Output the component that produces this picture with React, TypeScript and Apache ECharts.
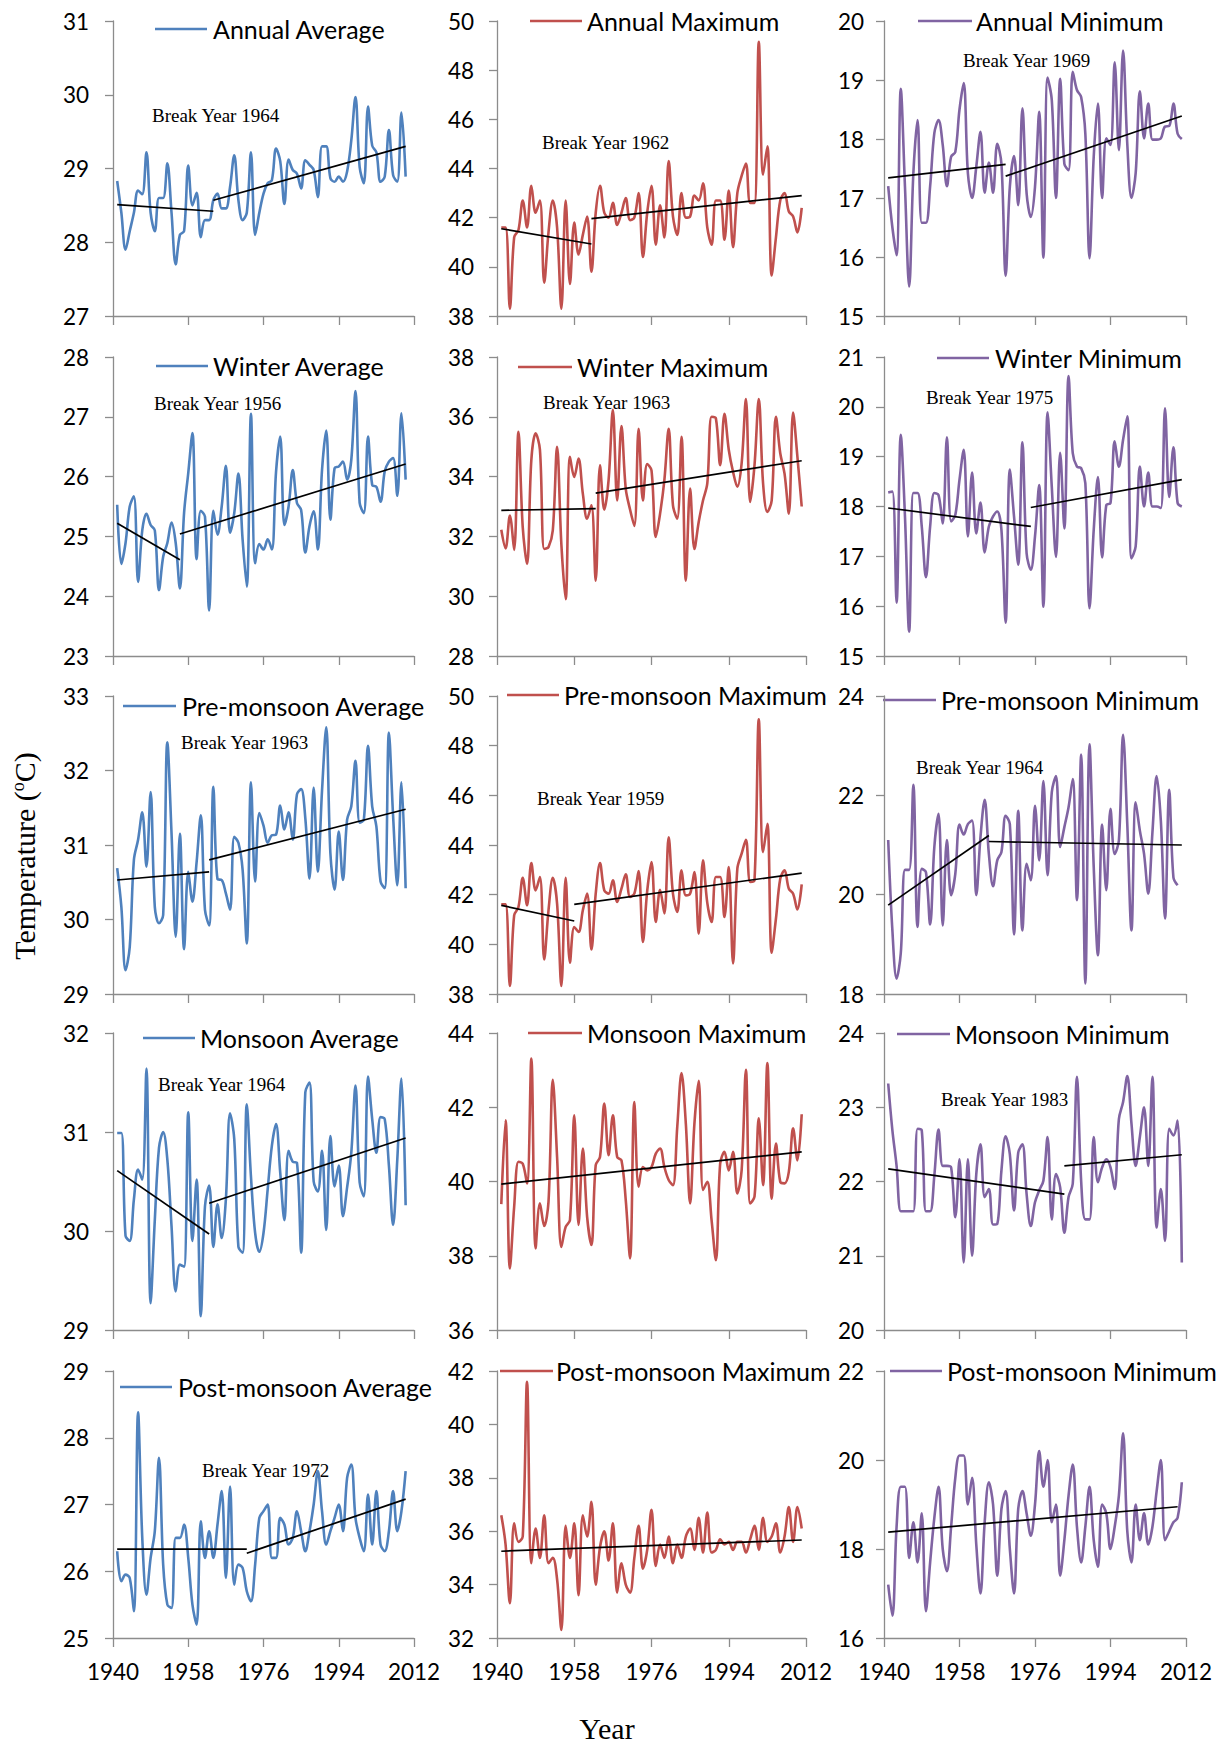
import React, { useEffect, useRef } from "react";
import * as echarts from "echarts";

// ---------------- DATA ----------------
const START_YEAR = 1941;
const X_MIN = 1940;
const X_MAX = 2012;
const X_STEP = 18;

const annualAverage = [28.83, 28.4, 27.9, 28.15, 28.4, 28.7, 28.65, 29.22, 28.4, 28.15,
  28.6, 28.6, 29.07, 28.4, 27.7, 28.1, 28.15, 29.04, 28.5, 28.67,
  28.07, 28.3, 28.3, 28.57, 28.66, 28.46, 28.46, 28.75, 29.18, 28.57,
  28.3, 28.4, 29.22, 28.1, 28.4, 28.66, 28.8, 28.84, 29.27, 29.1,
  28.52, 29.12, 28.98, 28.93, 28.73, 29.11, 29.05, 28.98, 28.61, 29.3,
  29.3, 28.87, 28.82, 28.89, 28.82, 28.96, 29.38, 29.97, 29.02, 28.8,
  29.84, 29.31, 29.22, 28.82, 28.89, 29.52, 28.91, 28.82, 29.76, 28.89];

const annualMaximum = [41.6, 41.6, 38.3, 41.2, 41.5, 42.7, 41.6, 43.3, 42.2, 42.7,
  39.35, 41.4, 42.7, 41.6, 38.3, 42.7, 39.3, 41.8, 40.5, 41.3,
  42.05, 39.8, 42.2, 43.3, 42.2, 42.0, 42.6, 41.7, 42.2, 42.8,
  41.9, 42.0, 43.0, 40.4, 42.2, 43.3, 40.9, 42.5, 41.2, 44.3,
  42.05, 41.3, 43.0, 42.0, 42.05, 42.9, 42.7, 43.4, 41.6, 40.9,
  42.7, 42.7, 41.1, 43.1, 40.8, 43.0, 43.7, 44.2, 42.6, 42.6,
  49.15, 43.75, 44.9, 39.65, 41.2, 42.7, 43.0, 42.25, 42.05, 41.4,
  42.4];

const annualMinimum = [17.2, 16.5, 16.03, 18.85, 17.19, 15.5, 17.42, 18.32, 16.58, 16.58,
  17.2, 18.1, 18.32, 17.9, 17.2, 17.7, 17.78, 18.5, 18.95, 17.42,
  17.0, 17.53, 18.12, 17.09, 17.6, 17.09, 17.92, 17.58, 15.68, 17.19,
  17.71, 16.88, 18.52, 17.08, 16.68, 17.19, 18.46, 15.99, 19.04, 18.66,
  17.0, 19.02, 17.58, 17.47, 19.14, 18.83, 18.71, 18.09, 15.98, 17.7,
  18.6, 17.0, 18.01, 17.9, 19.3, 17.81, 19.5, 17.92, 17.0, 17.42,
  18.81, 18.01, 18.6, 17.99, 17.99, 18.01, 18.21, 18.22, 18.6, 18.09,
  18.0];

const winterAverage = [25.53, 24.54, 24.89, 25.5, 25.67, 24.24, 25.1, 25.38, 25.19, 25.1,
  24.1, 24.66, 24.89, 25.23, 24.89, 24.13, 25.39, 26.06, 26.73, 24.62,
  25.43, 25.33, 23.76, 25.43, 25.03, 25.5, 26.18, 25.06, 25.39, 26.05,
  24.95, 24.16, 27.05, 24.55, 24.87, 24.78, 24.95, 24.78, 26.08, 26.67,
  25.19, 25.5, 26.11, 25.56, 25.44, 24.73, 25.17, 25.42, 24.78, 26.11,
  26.77, 25.28, 26.14, 26.17, 26.25, 25.95, 26.28, 27.43, 25.56, 25.39,
  26.67, 25.86, 25.83, 25.58, 26.09, 26.25, 26.31, 25.68, 27.06, 25.95];

const winterMaximum = [32.22, 31.6, 32.7, 31.55, 35.5, 32.3, 31.08, 34.55, 35.45, 34.9,
  31.58, 31.64, 32.2, 35.0, 31.73, 29.9, 34.66, 33.99, 34.6, 33.43,
  32.59, 33.04, 30.52, 34.38, 32.89, 33.88, 36.23, 33.2, 35.69, 33.6,
  32.9, 32.35, 35.6, 33.2, 34.42, 34.21, 31.98, 32.76, 33.88, 35.6,
  33.04, 32.59, 35.33, 30.52, 33.6, 31.58, 32.48, 33.2, 33.77, 36.0,
  35.95, 34.38, 36.1, 34.9, 34.16, 33.66, 34.44, 36.59, 33.15, 34.38,
  36.59, 33.77, 32.82, 33.2, 36.0, 34.78, 34.1, 32.76, 36.14, 34.66,
  33.0];

const winterMinimum = [18.28, 18.3, 16.07, 19.44, 17.8, 15.49, 18.27, 18.27, 17.6, 16.58,
  17.6, 18.27, 18.23, 17.66, 19.39, 17.7, 17.83, 18.54, 19.14, 17.4,
  18.68, 17.46, 18.08, 17.08, 17.6, 17.8, 17.9, 17.53, 15.67, 18.74,
  17.8, 16.83, 19.29, 17.06, 16.73, 17.4, 18.43, 15.99, 19.89, 18.4,
  16.99, 19.08, 17.56, 20.62, 19.07, 18.8, 18.77, 18.47, 15.96, 17.53,
  18.59, 16.98, 18.03, 18.07, 19.31, 18.8, 19.34, 19.81, 16.96, 17.2,
  18.8, 18.0, 18.68, 18.0, 18.0, 17.97, 19.97, 18.19, 19.19, 18.07,
  18.0];

const preMonsoonAverage = [30.69, 30.17, 29.32, 29.63, 30.8, 31.07, 31.44, 30.71, 31.71, 30.17,
  29.95, 30.06, 32.38, 31.16, 29.77, 31.15, 29.6, 30.64, 30.24, 30.77,
  31.4, 30.13, 29.92, 31.78, 30.54, 30.53, 30.35, 30.13, 31.11, 31.03,
  30.67, 29.68, 31.84, 30.51, 31.43, 31.26, 31.03, 31.13, 31.14, 31.53,
  31.21, 31.44, 31.07, 31.68, 31.75, 31.36, 30.55, 31.77, 30.64, 31.73,
  32.58, 30.89, 30.4, 31.18, 30.53, 31.34, 31.52, 32.13, 31.3, 31.34,
  32.33, 31.52, 31.25, 30.51, 30.42, 32.51, 31.39, 30.46, 31.84, 30.42];

const preMonsoonMaximum = [41.61, 41.61, 38.32, 41.17, 41.5, 42.68, 41.57, 43.27, 42.17, 42.71,
  39.39, 41.37, 42.68, 41.64, 38.32, 42.68, 39.26, 40.7, 40.5, 41.37,
  42.04, 39.79, 42.04, 43.27, 42.17, 42.04, 42.58, 41.71, 42.24, 42.82,
  41.91, 42.04, 42.95, 40.1, 42.15, 43.31, 40.9, 42.2, 41.24, 44.31,
  42.04, 41.3, 42.98, 41.97, 42.04, 42.91, 40.43, 43.38, 41.67, 40.9,
  42.71, 42.71, 41.1, 43.11, 39.23, 43.04, 43.65, 44.21, 42.51, 42.58,
  49.06, 43.71, 44.85, 39.66, 41.04, 42.64, 42.98, 42.24, 42.04, 41.4,
  42.41];

const preMonsoonMinimum = [21.1, 19.28, 18.31, 18.82, 20.5, 20.5, 22.21, 19.35, 20.52, 20.45,
  19.4, 20.96, 21.63, 19.38, 21.1, 19.99, 20.42, 21.41, 21.21, 21.42,
  21.49, 19.99, 21.16, 21.91, 20.82, 20.17, 20.69, 20.86, 21.59, 21.42,
  19.2, 21.69, 19.28, 20.62, 20.29, 21.79, 20.69, 22.29, 20.39, 22.06,
  22.39, 20.96, 21.36, 21.76, 22.33, 19.89, 22.82, 18.21, 23.03, 20.56,
  18.78, 21.41, 20.09, 21.73, 20.82, 21.09, 23.22, 21.42, 19.28, 21.86,
  21.29, 20.82, 20.02, 21.26, 22.39, 21.49, 19.52, 22.11, 20.35, 20.19];

const monsoonAverage = [30.99, 30.99, 29.95, 29.9, 30.32, 30.62, 30.52, 31.64, 29.27, 30.11,
  30.84, 31.0, 30.72, 30.05, 29.39, 29.66, 29.64, 31.2, 29.9, 30.52,
  29.14, 30.25, 30.46, 29.84, 30.27, 29.93, 30.32, 31.19, 30.93, 29.84,
  29.78, 31.28, 30.55, 29.98, 29.79, 29.98, 30.42, 30.86, 31.08, 30.59,
  30.11, 30.81, 30.7, 30.69, 29.78, 31.4, 31.5, 30.5, 30.4, 30.81,
  30.01, 30.96, 30.45, 30.66, 30.15, 30.44, 30.79, 31.47, 30.49, 30.35,
  31.56, 31.13, 30.79, 31.15, 31.13, 30.66, 30.06, 30.72, 31.54, 30.26];

const monsoonMaximum = [39.39, 41.65, 37.66, 39.32, 40.53, 40.48, 39.95, 43.31, 38.2, 39.41,
  38.8, 39.45, 42.74, 40.66, 38.24, 38.78, 38.96, 41.78, 38.83, 40.89,
  39.05, 38.29, 40.44, 40.66, 42.1, 40.71, 41.78, 40.66, 40.57, 39.5,
  37.93, 42.14, 39.86, 40.39, 40.3, 40.39, 40.75, 40.89, 40.39, 40.04,
  39.9, 41.47, 42.92, 41.56, 39.41, 41.56, 42.71, 39.77, 39.99, 38.96,
  37.88, 40.48, 40.8, 40.3, 40.8, 39.68, 40.3, 43.01, 39.41, 39.59,
  41.7, 39.9, 43.19, 39.54, 41.02, 39.99, 39.95, 40.26, 41.43, 40.57,
  41.81];

const monsoonMinimum = [23.32, 22.69, 22.21, 21.6, 21.6, 21.6, 21.6, 22.71, 22.69, 21.6,
  21.6, 22.08, 22.7, 22.21, 22.21, 22.19, 21.52, 22.3, 20.91, 22.3,
  21.0, 22.1, 22.5, 21.79, 21.9, 21.42, 21.43, 22.15, 22.61, 22.37,
  21.61, 22.39, 22.5, 21.83, 21.4, 21.72, 21.88, 22.01, 22.6, 21.49,
  22.1, 21.92, 21.31, 21.79, 21.97, 23.41, 22.01, 21.49, 21.49, 22.6,
  21.99, 22.19, 22.3, 22.19, 21.9, 22.84, 23.07, 23.42, 22.78, 22.21,
  22.6, 23.0, 22.21, 23.41, 21.38, 21.9, 21.2, 22.71, 22.62, 22.82,
  20.91];

const postMonsoonAverage = [26.3, 25.85, 25.95, 25.9, 25.4, 28.38, 26.5, 25.65, 26.2, 26.6,
  27.7, 26.1, 25.5, 25.45, 26.5, 26.5, 26.7, 26.2, 25.5, 25.2,
  26.75, 26.2, 26.6, 26.2, 26.7, 27.2, 25.9, 27.27, 25.8, 26.1,
  26.05, 25.7, 25.55, 26.1, 26.8, 26.9, 27.0, 26.2, 26.2, 26.8,
  26.7, 26.4, 26.5, 26.9, 26.6, 26.3, 26.6, 27.0, 27.5, 26.9,
  26.4, 26.6, 26.8, 27.0, 26.6, 27.4, 27.6, 26.8, 26.5, 26.3,
  27.15, 26.4, 27.2, 26.4, 26.3, 26.6, 27.2, 26.6, 26.9, 27.5];

const postMonsoonMaximum = [36.6, 35.5, 33.3, 36.3, 35.6, 35.8, 41.6, 34.8, 36.1, 35.0,
  36.6, 34.8, 35.0, 34.2, 32.3, 36.2, 35.0, 36.3, 33.6, 36.6,
  35.8, 37.1, 34.0, 35.4, 36.0, 34.9, 36.3, 33.7, 34.8, 34.0,
  33.7, 35.0, 36.2, 34.6, 35.3, 36.8, 34.7, 35.5, 35.0, 35.8,
  34.8, 35.5, 35.0, 35.8, 36.1, 35.3, 36.5, 35.2, 36.7, 35.2,
  35.3, 35.7, 35.5, 35.6, 35.3, 35.6, 35.6, 35.2, 35.7, 36.2,
  35.3, 36.5, 35.6, 35.8, 36.3, 35.2, 35.8, 36.9, 35.6, 36.9,
  36.1];

const postMonsoonMinimum = [17.2, 16.5, 18.5, 19.4, 19.4, 17.8, 18.6, 17.7, 18.8, 16.6,
  17.7, 18.7, 19.4, 18.0, 17.5, 18.5, 19.6, 20.1, 20.1, 19.0,
  19.6, 18.1, 17.0, 18.6, 19.5, 19.0, 17.4, 18.9, 19.3, 18.0,
  17.0, 18.9, 19.3, 18.8, 18.3, 19.0, 20.2, 19.4, 20.0, 18.6,
  19.0, 17.4, 18.2, 19.2, 19.9, 18.5, 17.7, 18.5, 19.4, 18.2,
  17.6, 19.0, 18.8, 18.0, 18.5, 19.2, 20.6, 18.4, 17.7, 19.0,
  18.2, 18.8, 18.1, 18.5, 19.3, 20.0, 18.2, 18.4, 18.6, 18.7,
  19.5];

// trend segments: [[year, value], [year, value]]
const annualAverageTrends = [[[1941, 28.51], [1964, 28.42]], [[1964, 28.57], [2010, 29.3]]];
const annualMaximumTrends = [[[1941, 41.55], [1962, 40.93]], [[1962, 41.96], [2011, 42.9]]];
const annualMinimumTrends = [[[1941, 17.34], [1969, 17.57]], [[1969, 17.37], [2011, 18.39]]];
const winterAverageTrends = [[[1941, 25.22], [1956, 24.61]], [[1956, 25.04], [2010, 26.21]]];
const winterMaximumTrends = [[[1941, 32.87], [1963, 32.93]], [[1963, 33.45], [2011, 34.53]]];
const winterMinimumTrends = [[[1941, 17.97], [1975, 17.6]], [[1975, 17.98], [2011, 18.54]]];
const preMonsoonAverageTrends = [[[1941, 30.53], [1963, 30.64]], [[1963, 30.8], [2010, 31.48]]];
const preMonsoonMaximumTrends = [[[1941, 41.57], [1958, 40.94]], [[1958, 41.61], [2011, 42.87]]];
const preMonsoonMinimumTrends = [[[1941, 19.79], [1965, 21.19]], [[1965, 21.07], [2011, 21.0]]];
const monsoonAverageTrends = [[[1941, 30.61], [1963, 29.97]], [[1963, 30.28], [2010, 30.94]]];
const monsoonMaximumTrends = [[[1941, 39.93], [2011, 40.8]]];
const monsoonMinimumTrends = [[[1941, 22.17], [1983, 21.83]], [[1983, 22.21], [2011, 22.36]]];
const postMonsoonAverageTrends = [[[1941, 26.33], [1972, 26.33]], [[1972, 26.27], [2010, 27.08]]];
const postMonsoonMaximumTrends = [[[1941, 35.25], [2011, 35.67]]];
const postMonsoonMinimumTrends = [[[1941, 18.38], [2010, 18.95]]];

const seriesNames = [
  "Annual Average", "Annual Maximum", "Annual Minimum",
  "Winter Average", "Winter Maximum", "Winter Minimum",
  "Pre-monsoon Average", "Pre-monsoon Maximum", "Pre-monsoon Minimum",
  "Monsoon Average", "Monsoon Maximum", "Monsoon Minimum",
  "Post-monsoon Average", "Post-monsoon Maximum", "Post-monsoon Minimum",
];
const seriesValues = [
  annualAverage, annualMaximum, annualMinimum,
  winterAverage, winterMaximum, winterMinimum,
  preMonsoonAverage, preMonsoonMaximum, preMonsoonMinimum,
  monsoonAverage, monsoonMaximum, monsoonMinimum,
  postMonsoonAverage, postMonsoonMaximum, postMonsoonMinimum,
];
const seriesTrends = [
  annualAverageTrends, annualMaximumTrends, annualMinimumTrends,
  winterAverageTrends, winterMaximumTrends, winterMinimumTrends,
  preMonsoonAverageTrends, preMonsoonMaximumTrends, preMonsoonMinimumTrends,
  monsoonAverageTrends, monsoonMaximumTrends, monsoonMinimumTrends,
  postMonsoonAverageTrends, postMonsoonMaximumTrends, postMonsoonMinimumTrends,
];
// y-axis [min, max, step]
const yRanges = [
  [27, 31, 1], [38, 50, 2], [15, 20, 1],
  [23, 28, 1], [28, 38, 2], [15, 21, 1],
  [29, 33, 1], [38, 50, 2], [18, 24, 2],
  [29, 32, 1], [36, 44, 2], [20, 24, 1],
  [25, 29, 1], [32, 42, 2], [16, 22, 2],
];
const breakLabels = [
  "Break Year 1964", "Break Year 1962", "Break Year 1969",
  "Break Year 1956", "Break Year 1963", "Break Year 1975",
  "Break Year 1963", "Break Year 1959", "Break Year 1964",
  "Break Year 1964", "", "Break Year 1983",
  "Break Year 1972", "", "",
];

// ---------------- LAYOUT / STYLE ----------------
const COLORS = ["#4F81BD", "#C0504D", "#8064A2"];
const COLS = [
  { left: 113, width: 301, labelMargin: 24 },
  { left: 497, width: 309, labelMargin: 23 },
  { left: 884, width: 302, labelMargin: 20 },
];
const ROWS = [
  { top: 21, height: 295 },
  { top: 357, height: 299 },
  { top: 696, height: 298 },
  { top: 1033, height: 297 },
  { top: 1371, height: 267 },
];
// legend: [lineX1, lineX2, y, textX]
const LEGEND_POS = [
  [155, 207, 29, 213], [530, 582, 21, 587], [918, 972, 21, 976],
  [156, 208, 366, 213], [518, 572, 367, 577], [937, 989, 358, 995],
  [123, 176, 706, 182], [507, 559, 695, 564], [883, 936, 700, 941],
  [143, 195, 1038, 200], [528, 582, 1033, 587], [897, 950, 1034, 955],
  [120, 172, 1387, 178], [500, 553, 1371, 556], [890, 942, 1371, 947],
];
// break label: [left x, center y]
const BREAK_POS = [
  [152, 115], [542, 142], [963, 60],
  [154, 403], [543, 402], [926, 397],
  [181, 742], [537, 798], [916, 767],
  [158, 1084], [0, 0], [941, 1099],
  [202, 1470], [0, 0], [0, 0],
];

const SANS = "Lato, 'Open Sans', sans-serif";
const SERIF = "'Liberation Serif', 'DejaVu Serif', serif";
const AXIS_COLOR = "#8C8C8C";

function buildOption() {
  const grid: any[] = [];
  const xAxis: any[] = [];
  const yAxis: any[] = [];
  const series: any[] = [];
  const elements: any[] = [];

  seriesNames.forEach((name, i) => {
    const r = Math.floor(i / 3);
    const c = i % 3;
    const col = COLS[c];
    const row = ROWS[r];
    const color = COLORS[c];
    grid.push({ left: col.left, top: row.top, width: col.width, height: row.height, containLabel: false });
    xAxis.push({
      type: "value", gridIndex: i, min: X_MIN, max: X_MAX, interval: X_STEP,
      axisLine: { show: true, onZero: false, lineStyle: { color: AXIS_COLOR, width: 1.3 } },
      axisTick: { show: true, length: 9, lineStyle: { color: AXIS_COLOR, width: 1.3 } },
      axisLabel: {
        show: r === 4, color: "#000", fontSize: 22.5, fontFamily: SANS, margin: 22,
        formatter: (v: number) => String(v),
      },
      splitLine: { show: false },
    });
    const [ymin, ymax, ystep] = yRanges[i];
    yAxis.push({
      type: "value", gridIndex: i, min: ymin, max: ymax, interval: ystep,
      axisLine: { show: true, onZero: false, lineStyle: { color: AXIS_COLOR, width: 1.3 } },
      axisTick: { show: true, length: 8, lineStyle: { color: AXIS_COLOR, width: 1.3 } },
      axisLabel: { color: "#000", fontSize: 22.5, fontFamily: SANS, margin: col.labelMargin },
      splitLine: { show: false },
    });
    series.push({
      type: "line", name, xAxisIndex: i, yAxisIndex: i,
      data: seriesValues[i].map((v, k) => [START_YEAR + k, v]),
      smooth: 0.35, showSymbol: false, symbol: "none",
      lineStyle: { color, width: 2.6 }, itemStyle: { color },
      z: 2,
    });
    seriesTrends[i].forEach((seg, k) => {
      series.push({
        type: "line", name: name + " trend " + (k + 1), xAxisIndex: i, yAxisIndex: i,
        data: seg, showSymbol: false, symbol: "none", smooth: false,
        lineStyle: { color: "#000", width: 1.7 }, itemStyle: { color: "#000" },
        z: 3,
      });
    });

    const [lx1, lx2, ly, tx] = LEGEND_POS[i];
    elements.push({ type: "line", shape: { x1: lx1, y1: ly, x2: lx2, y2: ly }, style: { stroke: color, lineWidth: 2.6 } });
    elements.push({
      type: "text", x: tx, y: ly,
      style: { text: name, fontSize: 25, fontFamily: SANS, fill: "#000", align: "left", verticalAlign: "middle" },
    });
    if (breakLabels[i]) {
      const [bx, by] = BREAK_POS[i];
      elements.push({
        type: "text", x: bx, y: by,
        style: { text: breakLabels[i], fontSize: 19, fontFamily: SERIF, fill: "#000", align: "left", verticalAlign: "middle" },
      });
    }
  });

  elements.push({
    type: "text", x: 24, y: 856, rotation: Math.PI / 2,
    style: {
      text: "Temperature ({sup|o}C)",
      rich: { sup: { fontSize: 18, fontFamily: SERIF, verticalAlign: "top", fill: "#000" } },
      fontSize: 30, fontFamily: SERIF, fill: "#000", align: "center", verticalAlign: "middle",
    },
  });
  elements.push({
    type: "text", x: 607, y: 1728,
    style: { text: "Year", fontSize: 30, fontFamily: SERIF, fill: "#000", align: "center", verticalAlign: "middle" },
  });

  return {
    animation: false,
    backgroundColor: "#ffffff",
    grid, xAxis, yAxis, series,
    graphic: { elements },
  };
}

export default function App() {
  const ref = useRef<HTMLDivElement | null>(null);
  useEffect(() => {
    if (!ref.current) return;
    const chart = echarts.init(ref.current, undefined, { renderer: "svg" });
    chart.setOption(buildOption() as any);
    return () => chart.dispose();
  }, []);
  return (
    <div
      ref={ref}
      style={{ position: "absolute", left: 0, top: 0, width: 1220, height: 1744, background: "#fff" }}
    />
  );
}
